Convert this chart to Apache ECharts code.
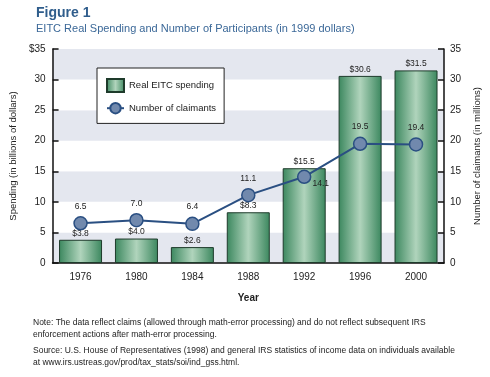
<!DOCTYPE html>
<html>
<head>
<meta charset="utf-8">
<script src="https://cdn.jsdelivr.net/npm/echarts@6/dist/echarts.min.js"></script>
<style>
  html, body { margin: 0; padding: 0; background: #fff; }
  #chart { width: 490px; height: 377px; }
</style>
</head>
<body>
<div id="chart"></div>
<script>
  var years = ['1976', '1980', '1984', '1988', '1992', '1996', '2000']
  var spending = [3.8, 4.0, 2.6, 8.3, 15.5, 30.6, 31.5]
  var claimants = [6.5, 7.0, 6.4, 11.1, 14.1, 19.5, 19.4]
  var yTicks = [0, 5, 10, 15, 20, 25, 30, 35]

  var font = '"Liberation Sans Narrow", "Liberation Sans", Arial, sans-serif'
  var chart = echarts.init(document.getElementById('chart'))

  var barFill = new echarts.graphic.LinearGradient(0, 0, 1, 0, [
    { offset: 0, color: '#3b875e' },
    { offset: 0.5, color: '#b0d4bc' },
    { offset: 1, color: '#3b875e' }
  ])

  var options = {
    textStyle: { fontFamily: font },
    animation: false,
    title: {
      text: 'Figure 1',
      subtext: 'EITC Real Spending and Number of Participants (in 1999 dollars)',
      left: 31,
      top: 1,
      itemGap: 3,
      textStyle: { fontFamily: font, fontSize: 14, fontWeight: 'bold', color: '#2f5d8c' },
      subtextStyle: { fontFamily: font, fontSize: 11, color: '#3b6898' }
    },
    legend: {
      orient: 'vertical',
      left: 97,
      top: 68,
      padding: [10, 8, 9, 9],
      itemGap: 9,
      itemWidth: 17,
      itemHeight: 13,
      backgroundColor: '#fff',
      borderColor: '#222',
      borderWidth: 1,
      textStyle: { fontFamily: font, fontSize: 9.5, color: '#222' },
      data: [
        { name: 'Real EITC spending', icon: 'rect' },
        { name: 'Number of claimants' }
      ]
    },
    grid: { left: 34, right: 34, top: 49, bottom: 114 },
    xAxis: {
      type: 'category',
      data: years,
      name: 'Year',
      nameLocation: 'middle',
      nameGap: 30,
      nameTextStyle: { fontFamily: font, fontSize: 10, fontWeight: 'bold', color: '#222' },
      axisLine: { lineStyle: { color: '#111', width: 1.5 } },
      axisTick: { inside: true, length: 5, lineStyle: { color: '#111', width: 1.5 } },
      axisLabel: { fontSize: 10, color: '#222', margin: 9 }
    },
    yAxis: [
      {
        type: 'value',
        min: 0,
        max: 35,
        interval: 5,
        name: 'Spending (in billions of dollars)',
        nameLocation: 'middle',
        nameRotate: 90,
        nameGap: 30,
        nameTextStyle: { fontFamily: font, fontSize: 9.5, color: '#222' },
        axisLine: { show: true, lineStyle: { color: '#111', width: 1.5 } },
        axisTick: { show: true, inside: true, length: 6, lineStyle: { color: '#111', width: 1.5 } },
        axisLabel: {
          fontSize: 10, color: '#222', margin: 7,
          formatter: function (v) { return v === yTicks[yTicks.length - 1] ? '$' + v : v }
        },
        splitLine: { show: false },
        splitArea: { show: true, areaStyle: { color: ['#e4e7ef', '#ffffff'] } }
      },
      {
        type: 'value',
        min: 0,
        max: 35,
        interval: 5,
        position: 'right',
        name: 'Number of claimants (in millions)',
        nameLocation: 'middle',
        nameRotate: 90,
        nameGap: 28,
        nameTextStyle: { fontFamily: font, fontSize: 9.5, color: '#222' },
        axisLine: { show: true, lineStyle: { color: '#111', width: 1.5 } },
        axisTick: { show: true, inside: true, length: 6, lineStyle: { color: '#111', width: 1.5 } },
        axisLabel: { fontSize: 10, color: '#222', margin: 6 },
        splitLine: { show: false }
      }
    ],
    graphic: [
      {
        type: 'text', left: 33, top: 317,
        style: {
          text: 'Note: The data reflect claims (allowed through math-error processing) and do not reflect subsequent IRS\nenforcement actions after math-error processing.',
          font: '8.5px ' + font, fill: '#222', lineHeight: 12
        }
      },
      {
        type: 'text', left: 33, top: 345,
        style: {
          text: 'Source: U.S. House of Representatives (1998) and general IRS statistics of income data on individuals available\nat www.irs.ustreas.gov/prod/tax_stats/soi/ind_gss.html.',
          font: '8.5px ' + font, fill: '#222', lineHeight: 12
        }
      }
    ],
    series: [
      {
        name: 'Real EITC spending',
        type: 'bar',
        yAxisIndex: 0,
        barWidth: 43,
        data: spending,
        itemStyle: { color: barFill, borderColor: '#1e3b2b', borderWidth: 1 },
        label: {
          show: true, position: 'top', distance: 2,
          fontSize: 8.5, color: '#222',
          formatter: function (p) { return '$' + p.value.toFixed(1) }
        }
      },
      {
        name: 'Number of claimants',
        type: 'line',
        yAxisIndex: 1,
        data: claimants.map(function (v, i) {
          if (i === 4) {
            return { value: v, label: { position: 'right', offset: [-4, 7] } }
          }
          return v
        }),
        symbol: 'circle',
        symbolSize: 13,
        lineStyle: { color: '#2a4f82', width: 2 },
        itemStyle: { color: '#7189ad', borderColor: '#2a4f82', borderWidth: 1.5 },
        label: {
          show: true, position: 'top', distance: 5,
          fontSize: 8.5, color: '#222',
          formatter: function (p) { return p.value.toFixed(1) }
        },
        z: 3
      }
    ]
  }
  chart.setOption(options)
</script>
</body>
</html>
